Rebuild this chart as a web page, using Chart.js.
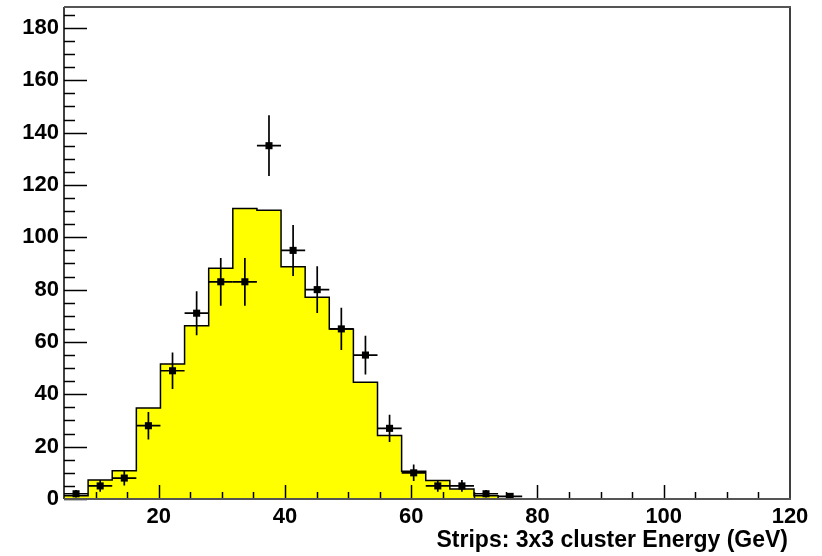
<!DOCTYPE html>
<html>
<head>
<meta charset="utf-8">
<script src="https://cdn.jsdelivr.net/npm/chart.js@4"></script>
<style>
  html, body { margin: 0; padding: 0; background: #fff; }
  #wrap { width: 822px; height: 556px; }
</style>
</head>
<body>
<div id="wrap"><canvas id="energyChart"></canvas></div>
<script>
// bin edges of the histogram (GeV)
const binEdges = [5, 8.82, 12.64, 16.46, 20.28, 24.10, 27.92, 31.74, 35.56, 39.38,
  43.20, 47.02, 50.84, 54.66, 58.48, 62.30, 66.12, 69.94, 73.76, 77.58];
// expected (yellow histogram) per bin
const histValues = [1.2, 7.3, 10.8, 34.8, 51.6, 66.2, 88.2, 111, 110.3, 88.7,
  77.1, 65, 44.6, 24.3, 10.6, 7.1, 3.8, 1.2];
// measured counts (points with errors) per bin
const dataValues = [2, 5, 8, 28, 49, 71, 83, 83, 135, 95, 80, 65, 55, 27, 10, 5, 5, 2, 1];
const xTicks = [20, 40, 60, 80, 100, 120];
const yTicks = [0, 20, 40, 60, 80, 100, 120, 140, 160, 180];

const FONT = "'Liberation Sans', Arial, Helvetica, sans-serif";

// step outline points
const histPoints = histValues.map((v, i) => ({ x: binEdges[i], y: v }));
histPoints.push({ x: binEdges[histValues.length], y: histValues[histValues.length - 1] });
histPoints.push({ x: binEdges[histValues.length], y: 0 });

const dataPoints = dataValues.map((v, i) => ({
  x: (binEdges[i] + binEdges[i + 1]) / 2,
  y: v,
  xl: binEdges[i],
  xh: binEdges[i + 1],
}));

// error bars drawn just before the markers
const errorBars = {
  id: "errorBars",
  beforeDatasetDraw(chart, args) {
    if (args.index !== 0) return;
    const { ctx, scales: { x, y } } = chart;
    ctx.save();
    ctx.strokeStyle = "#000";
    ctx.lineWidth = 1.7;
    dataPoints.forEach(p => {
      const e = Math.sqrt(p.y);
      const px = x.getPixelForValue(p.x), py = y.getPixelForValue(p.y);
      ctx.beginPath();
      ctx.moveTo(px, y.getPixelForValue(Math.max(0, p.y - e)));
      ctx.lineTo(px, y.getPixelForValue(p.y + e));
      ctx.moveTo(x.getPixelForValue(p.xl), py);
      ctx.lineTo(x.getPixelForValue(p.xh), py);
      ctx.stroke();
    });
    ctx.restore();
  },
};

// ROOT-like frame, inward ticks and axis title
const frame = {
  id: "frame",
  afterDraw(chart) {
    const { ctx, chartArea: a, scales: { x, y } } = chart;
    ctx.save();
    ctx.lineWidth = 1.5;
    ctx.strokeStyle = "#000";
    for (let v = 0; v <= 185; v += 5) {
      const py = Math.round(y.getPixelForValue(v)) + 0.5;
      const len = v % 20 === 0 ? 23 : 11;
      ctx.beginPath();
      ctx.moveTo(a.left, py);
      ctx.lineTo(a.left + len, py);
      ctx.stroke();
    }
    for (let v = 10; v < 120; v += 5) {
      const px = Math.round(x.getPixelForValue(v)) + 0.5;
      const len = v % 20 === 0 ? 14 : 7;
      ctx.beginPath();
      ctx.moveTo(px, a.bottom);
      ctx.lineTo(px, a.bottom - len);
      ctx.stroke();
    }
    // frame
    ctx.strokeStyle = "#000";
    ctx.lineWidth = 1.5;
    ctx.beginPath();
    ctx.moveTo(a.left, a.top);
    ctx.lineTo(a.left, a.bottom);
    ctx.moveTo(a.right, a.top);
    ctx.lineTo(a.right, a.bottom);
    ctx.stroke();
    ctx.strokeStyle = "#555";
    ctx.lineWidth = 2;
    ctx.beginPath();
    ctx.moveTo(a.left, a.top);
    ctx.lineTo(a.right + 1, a.top);
    ctx.moveTo(a.left, a.bottom);
    ctx.lineTo(a.right + 1, a.bottom);
    ctx.stroke();
    // x title
    ctx.fillStyle = "#000";
    ctx.font = "bold 23px " + FONT;
    ctx.textAlign = "right";
    ctx.textBaseline = "alphabetic";
    ctx.fillText("Strips: 3x3 cluster Energy (GeV)", a.right - 2, 547);
    ctx.restore();
  },
};

new Chart(document.getElementById("energyChart"), {
  type: "scatter",
  data: {
    datasets: [
      {
        label: "Data",
        data: dataPoints,
        pointStyle: "rect",
        pointRadius: 5,
        pointBackgroundColor: "#000",
        pointBorderColor: "#000",
        pointBorderWidth: 0,
        showLine: false,
      },
      {
        type: "line",
        label: "Expected",
        data: histPoints,
        stepped: "before",
        fill: "origin",
        backgroundColor: "#ffff00",
        borderColor: "#000",
        borderWidth: 1.5,
        pointRadius: 0,
      },
    ],
  },
  options: {
    responsive: true,
    maintainAspectRatio: false,
    animation: false,
    events: [],
    layout: { padding: { left: 0, top: 7, right: 32, bottom: 0 } },
    plugins: { legend: { display: false }, tooltip: { enabled: false } },
    scales: {
      x: {
        type: "linear",
        min: 5,
        max: 120,
        grid: { display: false, drawTicks: false },
        border: { display: false },
        afterBuildTicks: s => { s.ticks = xTicks.map(v => ({ value: v })); },
        afterFit: s => { s.height = 57; s.paddingLeft = 0; s.paddingRight = 0; },
        ticks: { color: "#000", padding: 5, maxRotation: 0, font: { family: FONT, size: 22, weight: "bold" } },
      },
      y: {
        min: 0,
        max: 188,
        grid: { display: false, drawTicks: false },
        border: { display: false },
        afterBuildTicks: s => { s.ticks = yTicks.map(v => ({ value: v })); },
        afterFit: s => { s.width = 64; s.paddingTop = 0; s.paddingBottom = 0; },
        ticks: { color: "#000", padding: 5, font: { family: FONT, size: 22, weight: "bold" } },
      },
    },
  },
  plugins: [errorBars, frame],
});
</script>
</body>
</html>
